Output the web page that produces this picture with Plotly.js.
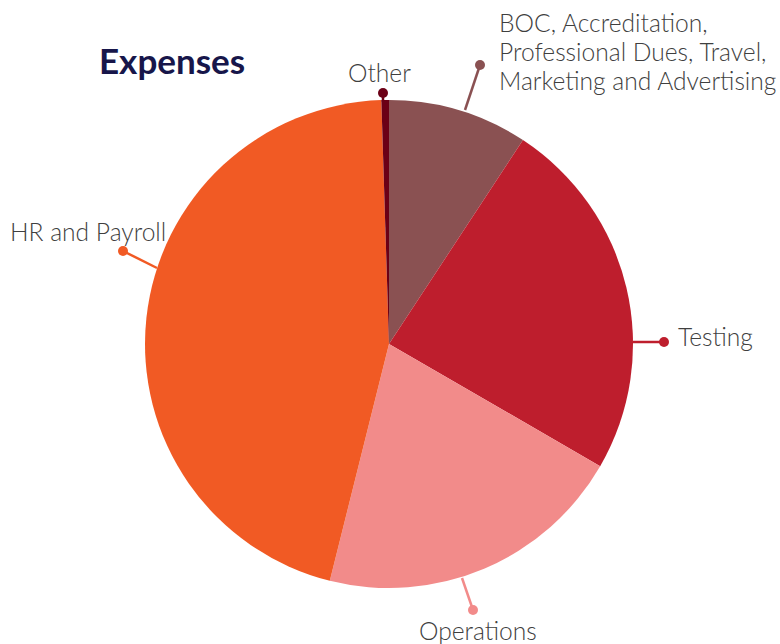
<!DOCTYPE html>
<html><head><meta charset="utf-8">
<script src="https://cdn.plot.ly/plotly-3.0.1.min.js"></script>
<style>html,body{margin:0;padding:0;background:#fff}#chart{width:780px;height:644px}</style>
</head><body><div id="chart"></div>
<script>
const categories = ["BOC, Accreditation, Professional Dues, Travel, Marketing and Advertising", "Testing", "Operations", "HR and Payroll", "Other"];
const values = [9.25, 24.1, 20.55, 45.6, 0.5];
const colors = ["#8a5152", "#be1e2d", "#f28b8a", "#f15a24", "#6b0016"];
const labelLines = [["BOC, Accreditation,", "Professional Dues, Travel,", "Marketing and Advertising"], ["Testing"], ["Operations"], ["HR and Payroll"], ["Other"]];

const W = 780, H = 644;
const px = x => x / W, py = y => 1 - y / H;
// leader lines: [x0,y0 (slice edge), x1,y1 (dot)] in pixels
const leaders = [[465,110,480,65],[633,342,664,342],[462,578,473,610],[157,268,123,251],[383,102,383,93]];
// label anchor positions (first line), line step
const labelPos = [
  {x:497,y:23,xa:'left'},
  {x:676,y:336,xa:'left'},
  {x:478,y:630,xa:'center'},
  {x:88,y:231,xa:'center'},
  {x:379,y:73,xa:'center'}
];
const lineStep = 28.5;
const shapes = [], annotations = [];
leaders.forEach((l,i)=>{
  shapes.push({type:'line',xref:'paper',yref:'paper',x0:px(l[0]),y0:py(l[1]),x1:px(l[2]),y1:py(l[3]),line:{color:colors[i],width:2.5}});
  const r=5;
  shapes.push({type:'circle',xref:'paper',yref:'paper',x0:px(l[2]-r),x1:px(l[2]+r),y0:py(l[3]+r),y1:py(l[3]-r),fillcolor:colors[i],line:{color:colors[i],width:0}});
  const p=labelPos[i];
  labelLines[i].forEach((t,j)=>{
    annotations.push({text:t,xref:'paper',yref:'paper',x:px(p.x),y:py(p.y+j*lineStep),xanchor:p.xa,yanchor:'middle',align:'left',showarrow:false,font:{family:'Lato, "Open Sans", sans-serif',size:24.6,color:'#3f3f3f',weight:300}});
  });
});
annotations.push({text:'<b>Expenses</b>',xref:'paper',yref:'paper',x:px(97),y:py(60),xanchor:'left',yanchor:'middle',showarrow:false,font:{family:'Lato, "Open Sans", sans-serif',size:35,color:'#17164a'}});

const cx=389, cy=344, R=244;
const trace = {
  type:'pie', labels:categories, values:values, sort:false, direction:'clockwise', rotation:0,
  marker:{colors:colors, line:{width:0}}, textinfo:'none', hoverinfo:'label+percent',
  domain:{x:[px(cx-R),px(cx+R)], y:[py(cy+R),py(cy-R)]}
};
Plotly.newPlot('chart',[trace],{width:W,height:H,margin:{l:0,r:0,t:0,b:0},showlegend:false,paper_bgcolor:'#fff',shapes:shapes,annotations:annotations},{displayModeBar:false,staticPlot:true});
</script></body></html>
